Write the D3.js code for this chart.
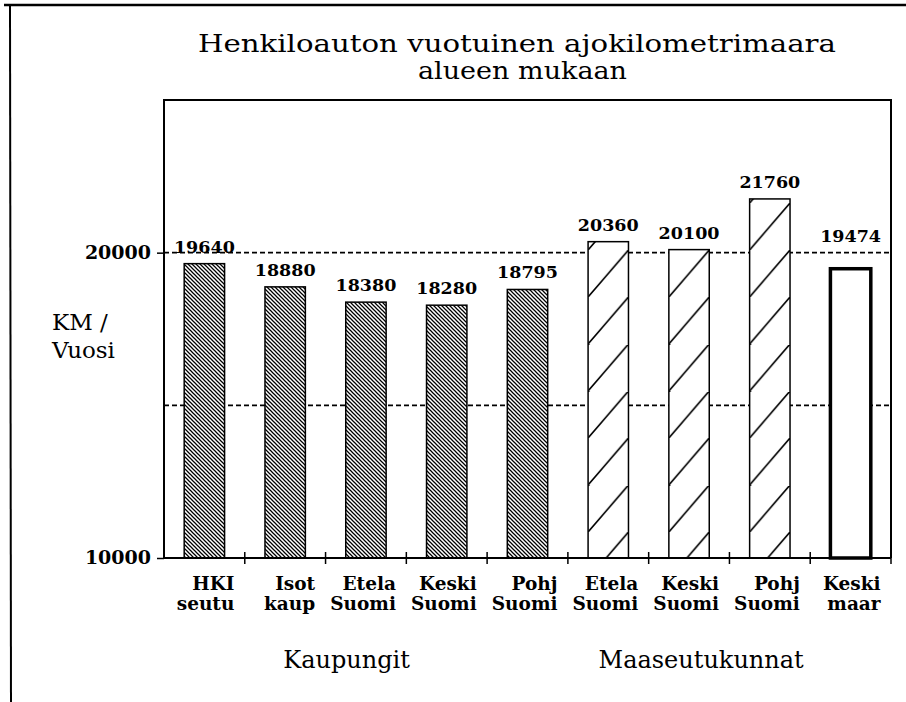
<!DOCTYPE html>
<html>
<head>
<meta charset="utf-8">
<script src="https://cdn.jsdelivr.net/npm/d3@7"></script>
<style>
  body { margin: 0; background: #fff; }
  svg { display: block; }
</style>
</head>
<body>
<div id="chart"></div>
<script>
// data
var labelTop = ["HKI", "Isot", "Etela", "Keski", "Pohj", "Etela", "Keski", "Pohj", "Keski"];
var labelBottom = ["seutu", "kaup", "Suomi", "Suomi", "Suomi", "Suomi", "Suomi", "Suomi", "maar"];
var values = [19640, 18880, 18380, 18280, 18795, 20360, 20100, 21760, 19474];
var kinds = ["city", "city", "city", "city", "city", "rural", "rural", "rural", "avg"];
var yTickValues = [10000, 20000];
var gridValues = [15000, 20000];
var groupNames = ["Kaupungit", "Maaseutukunnat"];
var titleLines = ["Henkiloauton vuotuinen ajokilometrimaara", "alueen mukaan"];

var width = 906, height = 702;
var plotLeft = 164, plotRight = 891, plotTop = 100, plotBottom = 558;
var serif = "'DejaVu Serif', 'Liberation Serif', serif";

var svg = d3.select("#chart").append("svg")
  .attr("width", width)
  .attr("height", height);

var x = d3.scaleBand()
  .domain(d3.range(values.length))
  .range([plotLeft, plotRight])
  .paddingInner(0.5)
  .paddingOuter(0.25);

var y = d3.scaleLinear()
  .domain([10000, 25000])
  .range([plotBottom, plotTop]);

// hatch patterns
var defs = svg.append("defs");
var dense = defs.append("pattern")
  .attr("id", "dense")
  .attr("patternUnits", "userSpaceOnUse")
  .attr("width", 4).attr("height", 4);
dense.append("rect").attr("width", 4).attr("height", 4).attr("fill", "#fff");
dense.append("path")
  .attr("d", "M-1,-1L5,5M-1,3L1,5M3,-1L5,1")
  .attr("stroke", "#000").attr("stroke-width", 1.25);

var tileW = x.step() / 2, tileH = 47;
var sparse = defs.append("pattern")
  .attr("id", "sparse")
  .attr("patternUnits", "userSpaceOnUse")
  .attr("x", x(5)).attr("y", 297)
  .attr("width", tileW).attr("height", tileH);
sparse.append("rect").attr("width", tileW).attr("height", tileH).attr("fill", "#fff");
sparse.append("path")
  .attr("d", "M" + (-tileW * 0.1) + "," + (tileH * 1.1) + "L" + (tileW * 1.1) + "," + (-tileH * 0.1))
  .attr("stroke", "#000").attr("stroke-width", 1.6);

// outer page frame
svg.append("line")
  .attr("x1", 4).attr("x2", width).attr("y1", 5).attr("y2", 5)
  .attr("stroke", "#000").attr("stroke-width", 2.5);
svg.append("line")
  .attr("x1", 10).attr("x2", 11).attr("y1", 5).attr("y2", height)
  .attr("stroke", "#000").attr("stroke-width", 2);

// title
svg.selectAll("text.title")
  .data(titleLines)
  .enter()
  .append("text")
  .attr("class", "title")
  .attr("x", function (d, i) { return i === 0 ? 198 : 418; })
  .attr("y", function (d, i) { return 52 + i * 27; })
  .attr("textLength", function (d, i) { return i === 0 ? 638 : 209; })
  .attr("lengthAdjust", "spacingAndGlyphs")
  .attr("font-family", serif)
  .attr("font-size", 25)
  .text(function (d) { return d; });

// dashed grid lines
svg.selectAll("line.grid")
  .data(gridValues)
  .enter()
  .append("line")
  .attr("class", "grid")
  .attr("x1", plotLeft).attr("x2", plotRight)
  .attr("y1", function (d) { return y(d); })
  .attr("y2", function (d) { return y(d); })
  .attr("stroke", "#000")
  .attr("stroke-width", 1.8)
  .attr("stroke-dasharray", "5,3");

// plot frame
svg.append("path")
  .attr("d", "M" + plotLeft + "," + plotBottom + "V" + plotTop + "H" + plotRight + "V" + plotBottom)
  .attr("fill", "none")
  .attr("stroke", "#000")
  .attr("stroke-width", 2);

// bars
svg.selectAll("rect.bar")
  .data(values)
  .enter()
  .append("rect")
  .attr("class", "bar")
  .attr("x", function (d, i) { return x(i); })
  .attr("width", x.bandwidth())
  .attr("y", function (d) { return y(d); })
  .attr("height", function (d) { return plotBottom - y(d); })
  .attr("fill", function (d, i) {
    if (kinds[i] === "city") return "url(#dense)";
    if (kinds[i] === "rural") return "url(#sparse)";
    return "#fff";
  })
  .attr("stroke", "#000")
  .attr("stroke-width", function (d, i) { return kinds[i] === "avg" ? 3.5 : 1.5; });

// value labels (the average's label sits higher, above the dashed line)
svg.selectAll("text.value")
  .data(values)
  .enter()
  .append("text")
  .attr("class", "value")
  .attr("x", function (d, i) { return x(i) + x.bandwidth() / 2; })
  .attr("y", function (d, i) { return y(d) - (kinds[i] === "avg" ? 27 : 11); })
  .attr("text-anchor", "middle")
  .attr("font-family", serif)
  .attr("font-weight", "bold")
  .attr("font-size", 17.5)
  .text(function (d) { return d; });

// x axis line + ticks at band edges
svg.append("line")
  .attr("x1", plotLeft).attr("x2", plotRight)
  .attr("y1", plotBottom).attr("y2", plotBottom)
  .attr("stroke", "#000").attr("stroke-width", 2);
svg.selectAll("line.xtick")
  .data(d3.range(1, values.length + 1))
  .enter()
  .append("line")
  .attr("class", "xtick")
  .attr("x1", function (d) { return plotLeft + d * x.step(); })
  .attr("x2", function (d) { return plotLeft + d * x.step(); })
  .attr("y1", plotBottom - 6).attr("y2", plotBottom + 6)
  .attr("stroke", "#000").attr("stroke-width", 1.5);

// category labels
var cat = svg.selectAll("text.cat")
  .data(values)
  .enter()
  .append("text")
  .attr("class", "cat")
  .attr("text-anchor", "end")
  .attr("font-family", serif)
  .attr("font-weight", "bold")
  .attr("font-size", 18.5);
cat.append("tspan")
  .attr("x", function (d, i) { return x(i) + x.bandwidth() / 2 + 30; })
  .attr("y", 590)
  .text(function (d, i) { return labelTop[i]; });
cat.append("tspan")
  .attr("x", function (d, i) { return x(i) + x.bandwidth() / 2 + 30; })
  .attr("y", 610)
  .text(function (d, i) { return labelBottom[i]; });

// y axis ticks
var yAxis = d3.axisLeft(y)
  .tickValues(yTickValues)
  .tickSize(7)
  .tickPadding(6)
  .tickFormat(d3.format("d"));
var yg = svg.append("g")
  .attr("transform", "translate(" + plotLeft + ",0)")
  .call(yAxis);
yg.select(".domain").remove();
yg.selectAll(".tick line").attr("stroke-width", 1.5);
yg.selectAll(".tick text")
  .attr("font-family", serif)
  .attr("font-weight", "bold")
  .attr("font-size", 19)
  .attr("dy", "0.3em");

// y title
svg.append("text")
  .attr("font-family", serif)
  .attr("font-size", 23)
  .selectAll("tspan")
  .data(["KM /", "Vuosi"])
  .enter()
  .append("tspan")
  .attr("x", 52)
  .attr("y", function (d, i) { return 330 + i * 28; })
  .text(function (d) { return d; });

// group labels under the categories
var groupX = d3.scaleLinear().domain([0, values.length]).range([plotLeft, plotRight]);
var groupPos = [2.26, 6.65];
svg.selectAll("text.group")
  .data(groupNames)
  .enter()
  .append("text")
  .attr("class", "group")
  .attr("x", function (d, i) { return groupX(groupPos[i]); })
  .attr("y", 668)
  .attr("text-anchor", "middle")
  .attr("font-family", serif)
  .attr("font-size", 24)
  .text(function (d) { return d; });
</script>
</body>
</html>
